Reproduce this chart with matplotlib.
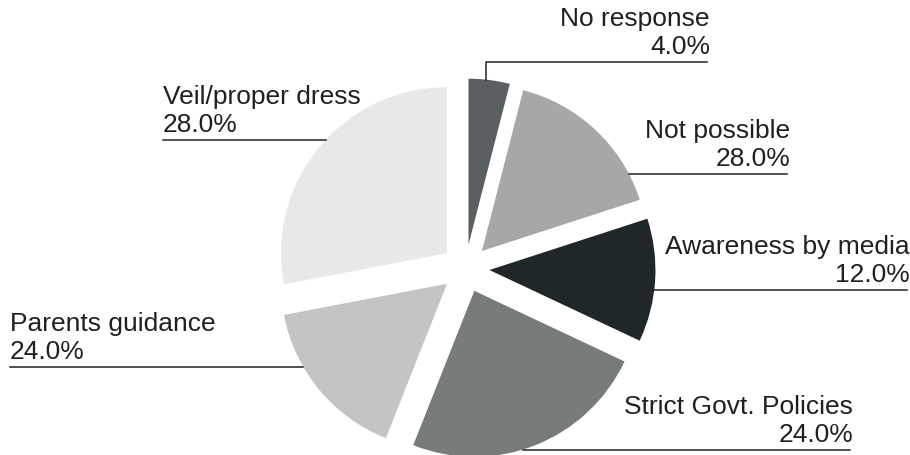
import numpy as np
import matplotlib
matplotlib.use("Agg")
import matplotlib.pyplot as plt

# ==============================
# DATA
# ==============================
labels = ["No response", "Not possible", "Awareness by media",
          "Strict Govt. Policies", "Parents guidance", "Veil/proper dress"]
# slice sizes as drawn (angles)
sizes = [4, 16, 12, 24, 16, 28]
# percentage text as printed on the chart
pct_text = ["4.0%", "28.0%", "12.0%", "24.0%", "24.0%", "28.0%"]
colors = ["#5a5f61", "#a7a7a7", "#1f2728", "#777b7b", "#c4c4c4", "#e8e8e8"]

# ==============================
# LAYOUT (pixel-like data coords, y up)
# ==============================
W, H = 910, 455
TXT = "#231f20"
plt.rcParams["font.family"] = ["Liberation Sans", "DejaVu Sans"]

RADIUS = 166
GAP = 24  # explode distance, same units as the radius

# leader attach angle on the arc, end x of underline, text alignment
attach_deg = [84, 27.6, -6.9, -73, 210, 136.9]
end_x = [707, 787, 907, 850, 10, 163]
align = ["right", "right", "right", "right", "left", "left"]

fig = plt.figure(figsize=(9.1, 4.55), dpi=100)
ax = fig.add_axes([0, 0, 1, 1])

wedges, _ = ax.pie(sizes, colors=colors, startangle=90, counterclock=False,
                   explode=[GAP] * len(sizes), radius=RADIUS,
                   center=(465.5, H - 268.5),
                   wedgeprops=dict(linewidth=0))

ax.set_xlim(0, W)
ax.set_ylim(0, H)
ax.set_aspect("equal")
ax.axis("off")

# ==============================
# LABELS WITH LEADER LINES
# ==============================
for i, w in enumerate(wedges):
    cx, cy = w.center
    a = np.deg2rad(attach_deg[i])
    px, py = cx + w.r * np.cos(a), cy + w.r * np.sin(a)

    if i == 0:
        # No response: goes up first, then across
        line_y = H - 62
        ax.plot([px, px, end_x[i]], [py, line_y, line_y], color=TXT, lw=1.1)
    else:
        line_y = py
        ax.plot([px, end_x[i]], [line_y, line_y], color=TXT, lw=1.1)

    tx = end_x[i] + (3 if align[i] == "right" else 0)
    ax.text(tx, line_y + 15, pct_text[i], ha=align[i], va="center",
            fontsize=19, color=TXT)
    ax.text(tx, line_y + 43, labels[i], ha=align[i], va="center",
            fontsize=19, color=TXT)

fig.savefig("out.png", dpi=100)
